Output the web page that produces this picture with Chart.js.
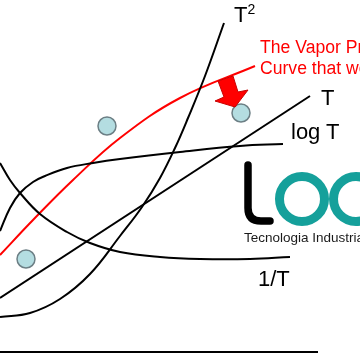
<!DOCTYPE html>
<html>
<head>
<meta charset="utf-8">
<script src="https://cdn.jsdelivr.net/npm/chart.js@4/dist/chart.umd.min.js"></script>
<style>
  html, body { margin: 0; padding: 0; background: #fff; }
  #wrap { position: relative; width: 360px; height: 360px; overflow: hidden; }
  #wrap canvas { position: absolute; left: 0; top: 0; }
  .lbl { position: absolute; white-space: nowrap; line-height: 1; font-family: "Liberation Sans", Arial, sans-serif; color: #000; }
</style>
</head>
<body>
<div id="wrap">
  <canvas id="chart" width="360" height="360"></canvas>
  <div class="lbl" style="left:234px; top:4px; font-size:22px;">T<span style="font-size:14px; position:relative; top:-8px;">2</span></div>
  <div class="lbl" style="left:260px; top:37px; font-size:17.6px; line-height:21px; color:#ff0000;">The Vapor Pressure<br>Curve that we</div>
  <div class="lbl" style="left:321px; top:87px; font-size:22px;">T</div>
  <div class="lbl" style="left:291px; top:121px; font-size:22px;">log T</div>
  <div class="lbl" style="left:258px; top:268px; font-size:22px;">1/T</div>
  <div class="lbl" style="left:244px; top:231px; font-size:13.5px; color:#1a1a1a;">Tecnologia Industrial</div>
</div>
<script>
// curves, in the picture's own units (y grows downward)
const squareX = [0, 30, 60, 90, 120, 142, 160, 175, 188, 205, 224];
const squareY = [317, 313, 299, 274, 236, 207, 178, 148, 118, 76, 23];

const linearX = [0, 310];
const linearY = [298, 96];

const logX = [0, 10, 20, 33, 45, 67, 93, 120, 180, 240, 283];
const logY = [231, 208, 193, 182, 176, 168, 163, 159, 152, 146, 144];

const inverseX = [0, 10, 20, 40, 67, 90, 120, 160, 200, 250, 290];
const inverseY = [163, 180, 193, 214, 232, 243, 252, 257, 259, 259, 257];

const vaporX = [0, 33, 73, 120, 180, 255];
const vaporY = [255, 220, 180, 138, 98, 66];

const baseX = [0, 318];
const baseY = [352, 352];

const dotX = [107, 241, 26];
const dotY = [126, 113, 259];

// arrow outline and logo anchors
const arrowX = [218, 233, 238, 248, 235, 215, 224];
const arrowY = [81, 76, 92, 90, 107, 101, 97];
const logoRingX = [302, 356];
const logoRingY = [199, 199];

function pts(xs, ys) {
  return xs.map((x, i) => ({ x: x, y: ys[i] }));
}

function curve(xs, ys, color, smooth) {
  return {
    type: "line",
    data: pts(xs, ys),
    borderColor: color,
    borderWidth: 2,
    pointRadius: 0,
    fill: false,
    tension: smooth ? 0.4 : 0,
    order: 2,
  };
}

const decorations = {
  id: "decorations",
  afterDatasetsDraw(chart) {
    const { ctx, scales } = chart;
    const px = (v) => scales.x.getPixelForValue(v);
    const py = (v) => scales.y.getPixelForValue(v);
    ctx.save();

    // red arrow
    ctx.beginPath();
    arrowX.forEach((x, i) => {
      if (i === 0) ctx.moveTo(px(x), py(arrowY[i]));
      else ctx.lineTo(px(x), py(arrowY[i]));
    });
    ctx.closePath();
    ctx.fillStyle = "#ff0000";
    ctx.fill();
    ctx.strokeStyle = "#c80000";
    ctx.lineWidth = 1;
    ctx.stroke();

    // logo: black "l" and teal rings
    ctx.lineCap = "round";
    ctx.lineWidth = 7.5;
    ctx.strokeStyle = "#000";
    ctx.beginPath();
    ctx.moveTo(px(248), py(165));
    ctx.lineTo(px(248), py(208));
    ctx.quadraticCurveTo(px(248), py(221), px(261), py(221));
    ctx.lineTo(px(270), py(221));
    ctx.stroke();

    ctx.lineWidth = 9;
    ctx.strokeStyle = "#15a09b";
    logoRingX.forEach((x, i) => {
      ctx.beginPath();
      ctx.arc(px(x), py(logoRingY[i]), 22.5, 0, Math.PI * 2);
      ctx.stroke();
    });
    ctx.restore();
  },
};

new Chart(document.getElementById("chart"), {
  data: {
    datasets: [
      {
        type: "scatter",
        data: pts(dotX, dotY),
        pointRadius: 9,
        pointBackgroundColor: "#b4dde1",
        pointBorderColor: "#6c7f85",
        pointBorderWidth: 1.5,
        order: 0,
      },
      curve(squareX, squareY, "#000", true),
      curve(linearX, linearY, "#000", false),
      curve(logX, logY, "#000", true),
      curve(inverseX, inverseY, "#000", true),
      curve(vaporX, vaporY, "#ff0000", true),
      curve(baseX, baseY, "#000", false),
    ],
  },
  options: {
    responsive: false,
    animation: false,
    devicePixelRatio: 1,
    layout: { padding: 0, autoPadding: false },
    plugins: { legend: { display: false }, tooltip: { enabled: false } },
    scales: {
      x: { type: "linear", min: 0, max: 360, display: false },
      y: { type: "linear", min: 0, max: 360, reverse: true, display: false },
    },
  },
  plugins: [decorations],
});
</script>
</body>
</html>
